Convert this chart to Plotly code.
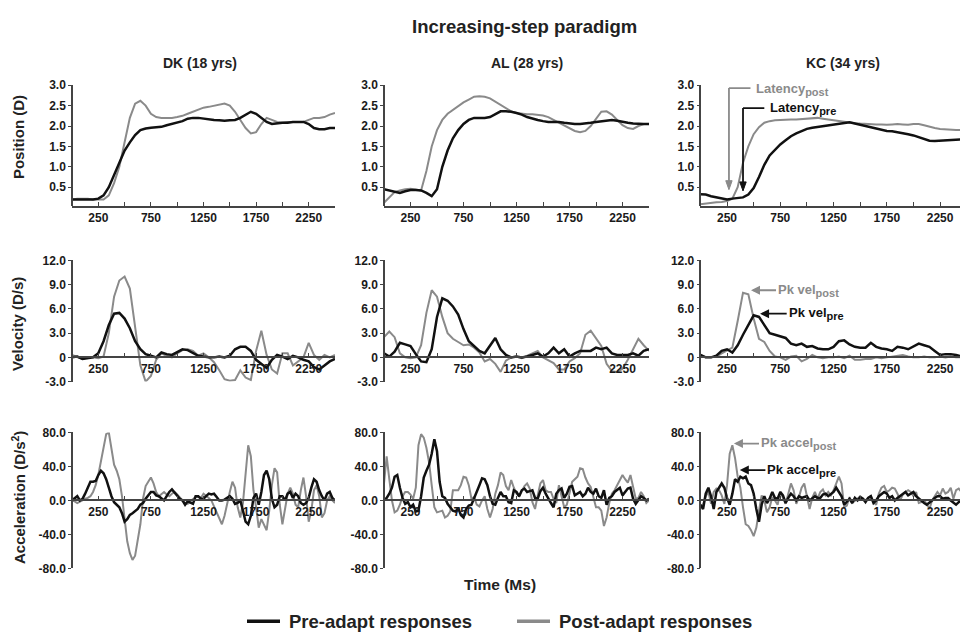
import plotly.graph_objects as go

# ---------------- data ----------------
t_pos = list(range(0, 2501, 50))
t_vel = list(range(0, 2501, 50))
t_acc = list(range(0, 2501, 25))

subjects = ["DK (18 yrs)", "AL (28 yrs)", "KC (34 yrs)"]
row_titles = ["Position (D)", "Velocity (D/s)", "Acceleration (D/s<sup>2</sup>)"]
x_tickvals = [250, 750, 1250, 1750, 2250]
x_ticktext = ["250", "750", "1250", "1750", "2250"]
pos_ticks = [0.5, 1.0, 1.5, 2.0, 2.5, 3.0]
pos_ticktext = ["0.5", "1.0", "1.5", "2.0", "2.5", "3.0"]
vel_ticks = [-3, 0, 3, 6, 9, 12]
vel_ticktext = ["-3.0", "0", "3.0", "6.0", "9.0", "12.0"]
acc_ticks = [-80, -40, 0, 40, 80]
acc_ticktext = ["-80.0", "-40.0", "0.0", "40.0", "80.0"]

# Position (D)
dk_pos_pre = [0.2, 0.2, 0.2, 0.2, 0.2, 0.22, 0.3, 0.5, 0.8, 1.1, 1.4, 1.6, 1.78, 1.9, 1.94, 1.96, 1.97, 1.98,
              2.02, 2.05, 2.08, 2.12, 2.18, 2.2, 2.2, 2.18, 2.17, 2.15, 2.14, 2.13, 2.14, 2.15, 2.2, 2.28, 2.35,
              2.3, 2.2, 2.1, 2.05, 2.07, 2.08, 2.08, 2.1, 2.1, 2.1, 2.05, 1.95, 1.92, 1.92, 1.95, 1.95]
dk_pos_post = [0.2, 0.22, 0.22, 0.22, 0.2, 0.2, 0.2, 0.3, 0.6, 1.0, 1.6, 2.2, 2.55, 2.62, 2.5, 2.3, 2.22, 2.2,
               2.2, 2.2, 2.22, 2.25, 2.3, 2.35, 2.4, 2.45, 2.47, 2.5, 2.53, 2.55, 2.5, 2.35, 2.15, 1.95, 1.82,
               1.85, 2.05, 2.2, 2.15, 2.1, 2.08, 2.1, 2.1, 2.1, 2.1, 2.15, 2.2, 2.2, 2.22, 2.28, 2.32]
al_pos_pre = [0.45, 0.42, 0.38, 0.36, 0.4, 0.43, 0.43, 0.42, 0.36, 0.28, 0.45, 1.0, 1.4, 1.7, 1.9, 2.05, 2.15, 2.2,
              2.2, 2.2, 2.22, 2.3, 2.36, 2.36, 2.35, 2.32, 2.28, 2.22, 2.18, 2.15, 2.12, 2.1, 2.1, 2.1, 2.08,
              2.06, 2.05, 2.05, 2.06, 2.08, 2.1, 2.12, 2.14, 2.15, 2.13, 2.1, 2.08, 2.06, 2.05, 2.05, 2.05]
al_pos_post = [0.12, 0.25, 0.38, 0.42, 0.45, 0.46, 0.44, 0.42, 0.9, 1.5, 1.9, 2.15, 2.3, 2.4, 2.48, 2.58, 2.65,
               2.72, 2.73, 2.72, 2.68, 2.6, 2.5, 2.42, 2.36, 2.32, 2.3, 2.29, 2.29, 2.28, 2.26, 2.22, 2.15, 2.08,
               2.0, 1.95, 1.88, 1.85, 1.88, 2.0, 2.18, 2.35, 2.36, 2.28, 2.15, 2.02, 1.95, 1.93, 2.0, 2.05, 2.05]
kc_pos_pre = [0.33, 0.32, 0.28, 0.25, 0.22, 0.2, 0.22, 0.23, 0.25, 0.32, 0.48, 0.75, 1.05, 1.28, 1.42, 1.55, 1.65,
              1.75, 1.82, 1.88, 1.93, 1.96, 1.98, 2.0, 2.02, 2.04, 2.06, 2.08, 2.09, 2.06, 2.03, 2.0, 1.96, 1.93,
              1.9, 1.88, 1.87, 1.85, 1.82, 1.8, 1.77, 1.73, 1.68, 1.64, 1.63, 1.64, 1.65, 1.66, 1.67, 1.68, 1.68]
kc_pos_post = [0.08, 0.1, 0.12, 0.13, 0.14, 0.16, 0.22, 0.5, 1.1, 1.5, 1.8, 1.97, 2.08, 2.12, 2.14, 2.15, 2.15,
               2.16, 2.16, 2.17, 2.18, 2.19, 2.2, 2.18, 2.16, 2.14, 2.12, 2.1, 2.08, 2.07, 2.06, 2.05, 2.05, 2.04,
               2.04, 2.03, 2.04, 2.05, 2.04, 2.03, 2.05, 2.05, 2.02, 1.98, 1.95, 1.93, 1.92, 1.9, 1.9, 1.9, 1.9]

# Velocity (D/s)
dk_vel_pre = [0, 0.1, -0.2, -0.1, 0, 0.5, 2.0, 4.0, 5.4, 5.5, 4.8, 3.6, 2.0, 1.0, 0.4, 0.2, 0.0, 0.6, 0.4, 0.3,
              0.7, 1.0, 0.9, 0.5, 0.2, 0.1, 0.0, 0.0, 0.1, 0.0, 0.2, 1.0, 1.3, 1.3, 0.8, -0.3, -0.8, -1.3, -0.3,
              0.3, 0.1, -0.2, 0.2, 0.0, -0.3, -0.5, -1.2, -1.5, -1.0, -0.5, -0.2]
dk_vel_post = [0.3, 0.0, -0.2, 0.0, 0.0, -0.1, 0.1, 3.0, 7.5, 9.5, 10.0, 8.5, 4.0, -1.0, -3.0, -2.3, -0.3, 0.5,
               0.2, 0.0, 0.5, 0.9, 1.0, 0.8, 0.2, 0.5, 0.0, -0.6, -1.6, -2.7, -2.9, -2.8, -1.6, -2.5, -2.8, 0.8,
               3.3, 0.3, -1.5, -2.0, 0.5, 0.5, -1.0, -0.5, 0.0, 1.8, 0.3, -0.3, 0.3, 0.0, 0.3]
al_vel_pre = [0.5, 0.1, 0.7, 1.8, 1.6, 1.4, 0.4, -0.5, -0.6, 1.0, 5.0, 7.3, 7.0, 6.3, 5.3, 3.5, 2.0, 1.4, 0.8, 0.5,
              1.5, 2.4, 1.0, 0.3, 0.0, 0.1, 0.0, 0.1, 0.3, 0.5, 0.1, 0.5, 1.2, 0.5, 1.0, 0.1, 0.5, 0.8, 0.8, 0.8,
              1.2, 1.0, 1.2, 0.5, 0.3, 0.3, 0.3, 0.5, 0.2, 0.8, 1.0]
al_vel_post = [2.5, 3.2, 2.5, 0.5, 0.0, -0.1, 0.0, 1.5, 5.5, 8.3, 7.5, 5.0, 3.0, 2.3, 1.9, 1.5, 1.6, 1.2, 0.6,
               -0.5, -0.2, -0.8, -1.8, -0.4, 0.0, 0.1, -0.1, 0.2, 0.5, 0.8, 0.0, -0.3, -0.7, -1.5, -1.5, -0.5,
               -0.1, 0.5, 2.8, 3.3, 2.3, 1.4, -0.8, -1.7, -1.8, -1.4, -0.3, 1.0, 2.3, 1.5, 0.8]
kc_vel_pre = [0.3, 0.0, 0.0, 0.2, 0.8, 1.0, 0.6, 1.5, 2.8, 4.0, 5.2, 5.0, 4.0, 3.0, 2.8, 2.6, 2.4, 1.7, 1.5, 1.7,
              1.3, 1.4, 1.1, 1.0, 1.0, 1.3, 2.0, 2.1, 1.6, 1.3, 1.2, 1.2, 1.8, 1.3, 1.1, 1.0, 0.8, 1.3, 1.2, 1.0,
              1.4, 1.7, 1.5, 1.3, 0.8, 0.3, 0.4, 0.4, 0.3, 0.1, 0.1]
kc_vel_post = [0.3, 0.0, 0.0, 0.1, 0.5, 0.9, 1.2, 4.5, 8.0, 7.8, 4.8, 2.3, 1.9, 0.8, 0.1, 0.0, -0.3, 0.1, 0.2,
               -0.5, -0.2, 0.3, 0.0, -0.1, 0.0, 0.0, 0.1, -0.1, 0.2, -0.3, -0.3, -0.2, -0.2, 0.0, -0.1, 0.0, 0.1,
               0.2, 0.3, 0.1, 0.0, 0.0, 0.1, 0.0, 0.0, 0.1, 0.0, 0.1, 0.0, 0.0, 0.0]

# Acceleration (D/s^2)
dk_acc_pre = [0, 2, 5, 0, 2, 8, 15, 22, 22, 23, 30, 35, 32, 25, 15, 5, -2, -5, -8, -15, -25, -22, -17, -15, -12,
              -10, -5, -3, 2, 6, 10, 10, 6, 5, 3, 0, 5, 10, 13, 9, 5, 2, 0, -5, -1, -3, -4, 5, 5, 2, 2, 5, 8, 7,
              8, 4, 0, 0, 1, 3, 5, 2, -4, -3, 0, -12, -25, -28, -18, 3, 8, -5, 10, 30, 35, 25, 2, -8, -5, 5, 5,
              0, 8, 10, 3, 8, 5, -3, -5, -3, 3, 15, 25, 22, 12, 5, 0, 8, 10, 3, 0]
dk_acc_post = [0, -1, -3, -1, 0, 2, 3, 5, 10, 18, 30, 45, 62, 78, 80, 62, 42, 35, 25, 5, -25, -48, -62, -70, -65,
               -48, -28, 2, 17, 22, 27, 20, 10, 5, 7, 10, 7, 5, 8, 10, 7, 3, 0, -3, -4, -1, 1, 4, 4, 3, 8, 6, 3,
               0, -7, -15, -22, -28, -18, -2, 10, 22, 15, -8, -20, -3, 35, 65, 52, 12, -8, -32, -22, -28, -35,
               -12, 18, 38, 33, -5, -28, -10, 8, 15, 8, -5, -8, 12, 27, 5, -25, -12, 12, 18, 5, -20, -15, 0, 5,
               0, -3]
al_acc_pre = [0, 3, 8, 15, 28, 30, 15, 3, -4, -2, -8, -5, -13, -12, 5, 27, 35, 42, 55, 72, 58, 22, 5, 3, -4, -8,
              -12, -13, -9, -17, -20, -10, -6, -5, 2, 10, 18, 26, 25, 18, 5, -4, -5, 3, 10, 5, 5, -2, -3, 12, 10,
              5, 12, 14, 10, 11, 12, 3, 2, 11, 15, 8, 2, -3, -8, 8, 12, 14, 3, 8, 16, 17, 6, 8, 10, 5, 8, 15, 10,
              8, 14, 5, 3, 12, -5, 3, 5, 10, 13, 15, 6, 10, 14, 15, 2, -4, 0, 5, 3, 0, 2]
al_acc_post = [20, 52, 25, 0, -14, -12, -5, 5, 10, 10, 7, 2, 15, 65, 78, 74, 62, 45, 18, -8, -14, -13, -12, -20,
               -18, -13, 12, 12, 12, 18, 28, 27, 18, 2, 4, -5, -7, 0, 5, -10, -20, -10, 8, 18, 33, 30, 17, 12, 24,
               15, 8, 5, 12, 17, 20, 14, -2, -10, 6, 20, 24, 12, 10, 10, 2, -3, 18, 6, -8, -5, 8, 22, 25, 28, 38,
               37, 27, 20, 16, 5, -8, -8, -12, -30, -20, -3, 8, 12, 18, 25, 30, 25, 21, 30, 16, 2, 3, 10, 5, -3, 0]
kc_acc_pre = [-5, -10, 8, 15, 5, -10, 10, 15, 20, 15, 3, -5, 8, 25, 22, 28, 26, 28, 20, 18, 8, -10, -25, -5, 5,
              -3, 2, 10, 3, 2, 10, 6, -3, 3, 8, 5, 0, 5, 3, 4, 5, 0, 3, 5, 3, 3, 7, 8, 5, 8, 10, 15, 10, 5, -5, -2,
              2, -3, 3, 0, 4, 2, -2, 3, 5, -3, 0, 5, 7, 10, 8, 3, 5, 0, 3, 5, 8, 10, 6, 8, 10, 5, 2, 0, -3, -5, -3,
              0, 3, 5, 5, 2, 3, 3, 0, -3, -5, -2, 0, 0, 0]
kc_acc_post = [-8, -5, 5, 10, -4, 10, 14, 12, 6, -4, 18, 55, 65, 50, 28, 15, -8, -28, -30, -35, -42, -32, -12, 6,
               0, -14, -8, 4, 0, -5, 10, 2, -4, 8, 20, 12, -4, 4, 15, 20, 5, -10, 3, 10, 2, 10, 13, 6, 10, 6, 12,
               20, 28, 20, -8, -6, 4, -3, -1, 2, 5, 2, 0, 3, 5, -2, -5, 8, 15, 17, 10, 12, 15, 14, 8, 0, 7, 10, 12,
               10, 5, 10, -3, -2, 0, -4, -10, 0, 5, 10, 6, 14, 8, 10, 15, 2, 12, 14, 10, 5, 5]

pre_series = [[dk_pos_pre, al_pos_pre, kc_pos_pre], [dk_vel_pre, al_vel_pre, kc_vel_pre],
              [dk_acc_pre, al_acc_pre, kc_acc_pre]]
post_series = [[dk_pos_post, al_pos_post, kc_pos_post], [dk_vel_post, al_vel_post, kc_vel_post],
               [dk_acc_post, al_acc_post, kc_acc_post]]
times = [t_pos, t_vel, t_acc]

# ---------------- layout geometry ----------------
W, H = 960, 640
PRE_C = "#111111"
POST_C = "#8a8a8a"
AX_C = "#444444"
FONT = "Liberation Sans"

col_px = [(72, 335), (384, 649), (700.4, 960)]
col_range = [(0, 2500), (0, 2500), (0, 2437)]
row_px = [(80, 203), (259, 383), (435, 574)]
row_range = [(0.05, 3.0), (-3, 12), (-80, 80)]
row_ticks = [(pos_ticks, pos_ticktext), (vel_ticks, vel_ticktext), (acc_ticks, acc_ticktext)]

fig = go.Figure()
layout = dict(width=W, height=H, margin=dict(l=0, r=0, t=0, b=0), plot_bgcolor="white",
              paper_bgcolor="white", showlegend=False,
              font=dict(family=FONT, size=12, color="#222222", weight="bold"))

tickfont = dict(family=FONT, size=12, color="#1a1a1a", weight="bold")
for r in range(3):
    for c in range(3):
        k = r * 3 + c + 1
        xs = "" if k == 1 else str(k)
        xd = [col_px[c][0] / W, col_px[c][1] / W]
        yd = [1 - row_px[r][1] / H, 1 - row_px[r][0] / H]
        ylo, yhi = row_range[r]
        xaxis = dict(domain=xd, range=list(col_range[c]), showgrid=False, zeroline=False,
                     showline=True, linecolor=AX_C, linewidth=1.5, ticks="inside", ticklen=4,
                     tickwidth=1.2, tickcolor=AX_C, tickvals=x_tickvals, ticktext=x_ticktext,
                     minor=dict(ticks="inside", tick0=0, dtick=250, ticklen=4, tickwidth=1.2,
                                tickcolor=AX_C, showgrid=False),
                     tickfont=tickfont, fixedrange=True)
        if r == 0:
            xaxis["anchor"] = "y" + xs
        else:
            frac = (0 - ylo) / (yhi - ylo)
            xaxis["anchor"] = "free"
            xaxis["position"] = yd[0] + frac * (yd[1] - yd[0])
        yaxis = dict(domain=yd, range=[ylo, yhi], anchor="free", position=xd[0], showgrid=False,
                     zeroline=False, showline=True, linecolor=AX_C, linewidth=1.5, ticks="outside",
                     ticklen=3, tickwidth=1.2, tickcolor=AX_C, tickvals=row_ticks[r][0],
                     ticktext=row_ticks[r][1], tickfont=tickfont, fixedrange=True)
        layout["xaxis" + xs] = xaxis
        layout["yaxis" + xs] = yaxis
        fig.add_trace(go.Scatter(x=times[r], y=post_series[r][c], mode="lines",
                                 line=dict(color=POST_C, width=2), xaxis="x" + xs, yaxis="y" + xs,
                                 name="Post-adapt responses"))
        fig.add_trace(go.Scatter(x=times[r], y=pre_series[r][c], mode="lines",
                                 line=dict(color=PRE_C, width=2.5), xaxis="x" + xs, yaxis="y" + xs,
                                 name="Pre-adapt responses"))

fig.update_layout(**layout)

ann = []
shapes = []
bold = lambda s, col="#222222": dict(family=FONT, size=s, color=col, weight="bold")

ann.append(dict(text="Increasing-step paradigm", x=524 / W, y=1 - 20 / H, xref="paper", yref="paper",
                showarrow=False, font=bold(18.5), xanchor="center", yanchor="middle"))
for c, name in enumerate(subjects):
    cx = [200, 527, 843][c]
    ann.append(dict(text=name, x=cx / W, y=1 - 57 / H, xref="paper", yref="paper", showarrow=False,
                    font=bold(14), xanchor="center", yanchor="middle"))
for r, name in enumerate(row_titles):
    cy = [133, 324, 502][r]
    ann.append(dict(text=name, x=18 / W, y=1 - cy / H, xref="paper", yref="paper", showarrow=False,
                    textangle=-90, font=bold(15), xanchor="center", yanchor="middle"))
ann.append(dict(text="Time (Ms)", x=500 / W, y=1 - 590 / H, xref="paper", yref="paper",
                showarrow=False, font=bold(15.5), xanchor="center", yanchor="middle"))

# legend (bottom)
ly = 1 - 628 / H
shapes.append(dict(type="line", xref="paper", yref="paper", x0=247 / W, x1=280 / W, y0=ly, y1=ly,
                   line=dict(color=PRE_C, width=3.5)))
ann.append(dict(text="Pre-adapt responses", x=287 / W, y=ly, xref="paper", yref="paper",
                showarrow=False, font=bold(18.5), xanchor="left", yanchor="middle"))
shapes.append(dict(type="line", xref="paper", yref="paper", x0=517 / W, x1=550 / W, y0=ly, y1=ly,
                   line=dict(color=POST_C, width=3.5)))
ann.append(dict(text="Post-adapt responses", x=557 / W, y=ly, xref="paper", yref="paper",
                showarrow=False, font=bold(18.5), xanchor="left", yanchor="middle"))


def sub(s):
    return '<sub><span style="font-size:11px">' + s + '</span></sub>'


def arrow_label(xa, ya, x, y, ax, ay, txt, col):
    # text box sits at the tail (ax, ay); arrow points to the head (x, y)
    return dict(x=x, y=y, ax=ax, ay=ay, xref=xa, yref=ya, axref=xa, ayref=ya, text=txt,
                showarrow=True, arrowhead=2, arrowsize=1, arrowwidth=1.8, arrowcolor=col,
                xanchor="left", yanchor="middle", font=bold(13, col), standoff=0, startstandoff=0)


def label(xa, ya, x, y, txt, col):
    return dict(x=x, y=y, xref=xa, yref=ya, text=txt, showarrow=False, xanchor="left",
                yanchor="middle", font=bold(13, col))


# latency (elbow arrows: horizontal + vertical lines with a triangular head)
shapes.append(dict(type="line", xref="x3", yref="y3", x0=268, x1=470, y0=2.93, y1=2.93,
                   line=dict(color=POST_C, width=1.8)))
shapes.append(dict(type="line", xref="x3", yref="y3", x0=268, x1=268, y0=2.93, y1=0.62,
                   line=dict(color=POST_C, width=1.8)))
shapes.append(dict(type="path", xref="x3", yref="y3", path="M 238,0.66 L 298,0.66 L 268,0.44 Z",
                   fillcolor=POST_C, line=dict(color=POST_C, width=1)))
ann.append(label("x3", "y3", 505, 2.9, "Latency" + sub("post"), POST_C))
shapes.append(dict(type="line", xref="x3", yref="y3", x0=400, x1=600, y0=2.44, y1=2.44,
                   line=dict(color=PRE_C, width=1.8)))
shapes.append(dict(type="line", xref="x3", yref="y3", x0=400, x1=400, y0=2.44, y1=0.6,
                   line=dict(color=PRE_C, width=1.8)))
shapes.append(dict(type="path", xref="x3", yref="y3", path="M 370,0.63 L 430,0.63 L 400,0.41 Z",
                   fillcolor=PRE_C, line=dict(color=PRE_C, width=1)))
ann.append(label("x3", "y3", 632, 2.42, "Latency" + sub("pre"), PRE_C))
# peak velocity
ann.append(arrow_label("x6", "y6", 475, 8.3, 710, 8.3, "Pk vel" + sub("post"), POST_C))
ann.append(arrow_label("x6", "y6", 560, 5.4, 810, 5.4, "Pk vel" + sub("pre"), PRE_C))
# peak acceleration
ann.append(arrow_label("x9", "y9", 315, 67, 550, 67, "Pk accel" + sub("post"), POST_C))
ann.append(arrow_label("x9", "y9", 370, 35.7, 610, 35.7, "Pk accel" + sub("pre"), PRE_C))

fig.update_layout(annotations=ann, shapes=shapes)
fig.write_html("out.html")
